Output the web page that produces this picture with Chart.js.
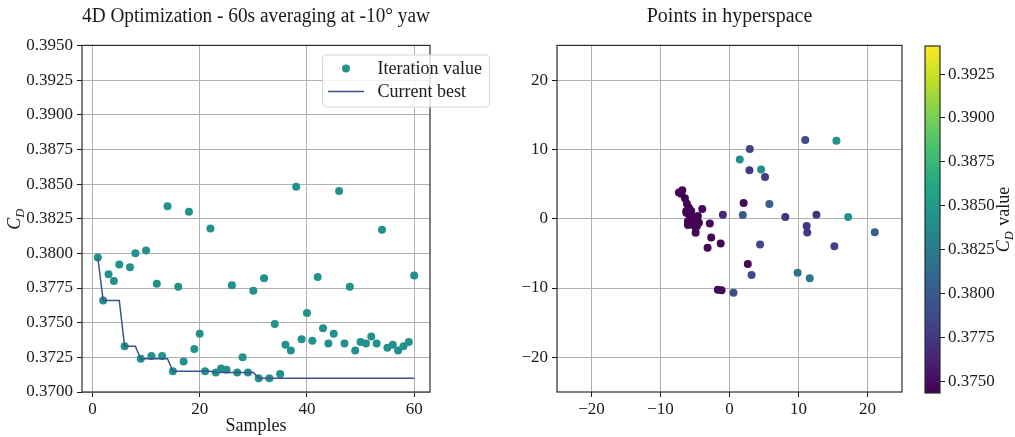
<!DOCTYPE html>
<html>
<head>
<meta charset="utf-8">
<script src="https://cdn.jsdelivr.net/npm/chart.js@4.4.0/dist/chart.umd.min.js"></script>
<style>
  html, body { margin: 0; padding: 0; background: #ffffff; }
  #wrap { position: relative; width: 1015px; height: 437px; overflow: hidden; }
  canvas { position: absolute; top: 0; }
  #c1 { left: 0; }
  #c2 { left: 505px; }
  #c3 { left: 915px; }
</style>
</head>
<body>
<div id="wrap">
  <canvas id="c1" width="505" height="437"></canvas>
  <canvas id="c2" width="410" height="437"></canvas>
  <canvas id="c3" width="100" height="437"></canvas>
</div>
<script>
// ---- optimisation history ----
const samples = Array.from({ length: 60 }, (_, i) => i + 1);
const iterationValue = [
  0.3797, 0.3766, 0.3785, 0.3780, 0.3792, 0.3733, 0.3790, 0.3800, 0.3724, 0.3802,
  0.3726, 0.3778, 0.3726, 0.3834, 0.3715, 0.3776, 0.3722, 0.3830, 0.3731, 0.3742,
  0.3715, 0.3818, 0.3714, 0.3717, 0.3716, 0.3777, 0.3714, 0.3725, 0.3714, 0.3773,
  0.3710, 0.3782, 0.3710, 0.3749, 0.3713, 0.3734, 0.3730, 0.3848, 0.3738, 0.3757,
  0.3737, 0.3783, 0.3746, 0.3735, 0.3742, 0.3845, 0.3735, 0.3776, 0.3730, 0.3736,
  0.3735, 0.3740, 0.3735, 0.3817, 0.3732, 0.3734, 0.3730, 0.3733, 0.3736, 0.3784
];
// best value found so far at each sample
const currentBest = [];
iterationValue.forEach((v, i) => currentBest.push(i === 0 ? v : Math.min(currentBest[i - 1], v)));

const historyXTicks = [0, 20, 40, 60];
const historyYTicks = [0.3700, 0.3725, 0.3750, 0.3775, 0.3800, 0.3825, 0.3850, 0.3875, 0.3900, 0.3925, 0.3950];

// ---- sampled points projected to 2D ----
const hypX = [10.98, 15.50, 2.94, 1.49, 2.89, 4.58, 5.15, 2.05, 5.78, -0.96, 1.93, 8.09, 12.60, 17.20, 11.18, 11.27, 21.05, -1.28, 4.43, 15.20, 2.65, 3.20, 9.87, 11.63, -1.69, -1.15, 0.58,
  -7.33, -6.84, -7.00, -6.46, -6.17, -5.88, -6.26, -5.54, -3.95, -5.68, -6.26, -5.78, -4.58, -5.06, -5.50, -6.02, -5.30, -4.43, -6.02, -5.30, -4.72, -2.85, -4.90, -4.91, -2.65, -3.18];
const hypY = [11.35, 11.25, 10.04, 8.55, 7.00, 7.10, 6.03, 2.26, 2.12, 0.58, 0.53, 0.24, 0.58, 0.24, -1.07, -1.99, -1.94, -3.58, -3.72, -3.97, -6.52, -8.12, -7.78, -8.60, -10.25, -10.32, -10.68,
  3.77, 4.10, 3.60, 2.94, 2.17, 1.59, 1.10, 1.10, 1.39, 0.52, 0.87, 0.38, 0.38, 0.14, -0.10, -0.35, -0.35, -0.58, -0.92, -0.92, -1.07, -0.68, -1.30, -2.03, -2.71, -4.20];
const hypCd = [0.3790, 0.3845, 0.3781, 0.3842, 0.3776, 0.3838, 0.3778, 0.3746, 0.3803, 0.3765, 0.3800, 0.3773, 0.3773, 0.3845, 0.3772, 0.3776, 0.3803, 0.3745, 0.3786, 0.3781, 0.3746, 0.3786, 0.3818, 0.3822, 0.3747, 0.3748, 0.3791,
  0.3744, 0.3745, 0.3744, 0.3743, 0.3744, 0.3743, 0.3744, 0.3745, 0.3745, 0.3743, 0.3744, 0.3743, 0.3744, 0.3745, 0.3743, 0.3744, 0.3743, 0.3744, 0.3744, 0.3745, 0.3744, 0.3746, 0.3744, 0.3745, 0.3745, 0.3746];
const hypTicks = [-20, -10, 0, 10, 20];

// ---- colour bar ----
const cdRange = [0.37432, 0.39410];
const cbTicks = [0.3750, 0.3775, 0.3800, 0.3825, 0.3850, 0.3875, 0.3900, 0.3925];

const viridisStops = ['#440154', '#482475', '#414487', '#355f8d', '#2a788e', '#21918c', '#22a884', '#44bf70', '#7ad151', '#bddf26', '#fde725'];
function hexRgb(h) { return [1, 3, 5].map(i => parseInt(h.substr(i, 2), 16)); }
function viridis(t) {
  t = Math.max(0, Math.min(1, t));
  const p = t * 10, i = Math.min(9, Math.floor(p)), f = p - i;
  const a = hexRgb(viridisStops[i]), b = hexRgb(viridisStops[i + 1]);
  const c = a.map((v, k) => Math.round(v + (b[k] - v) * f));
  return `rgb(${c[0]},${c[1]},${c[2]})`;
}
const cdColor = v => viridis((v - cdRange[0]) / (cdRange[1] - cdRange[0]));

const SERIF = "'Liberation Serif', 'DejaVu Serif', serif";
const INK = '#1a1a1a';
const GRID = '#b0b0b0';
const TEXT_SIZE = 18;
const TITLE_SIZE = 20;
Chart.defaults.font.family = SERIF;
Chart.defaults.font.size = 17;
Chart.defaults.color = INK;

const minus = s => String(s).replace('-', '\u2212');
const fixTicks = arr => scale => { scale.ticks = arr.map(v => ({ value: v })); };

// box around the plotting area
const framePlugin = {
  id: 'frame',
  afterDatasetsDraw(chart) {
    const { ctx, chartArea: a } = chart;
    ctx.save();
    ctx.strokeStyle = '#2b2b2b';
    ctx.lineWidth = 1.2;
    ctx.strokeRect(a.left, a.top, a.right - a.left, a.bottom - a.top);
    ctx.restore();
  }
};

// rotated label such as  C_D  or  C_D value
function drawRotatedCd(ctx, baseX, centerY, rest) {
  ctx.save();
  const fMain = `italic ${TEXT_SIZE}px ${SERIF}`, fSub = `italic 12.5px ${SERIF}`, fRest = `${TEXT_SIZE}px ${SERIF}`;
  ctx.font = fMain; const wC = ctx.measureText('C').width;
  ctx.font = fSub; const wD = ctx.measureText('D').width;
  ctx.font = fRest; const wR = rest ? ctx.measureText(rest).width : 0;
  const total = wC + wD + 1 + wR;
  ctx.translate(baseX, centerY);
  ctx.rotate(-Math.PI / 2);
  ctx.fillStyle = INK;
  ctx.textBaseline = 'alphabetic';
  ctx.textAlign = 'left';
  let x = -total / 2;
  ctx.font = fMain; ctx.fillText('C', x, 0); x += wC;
  ctx.font = fSub; ctx.fillText('D', x, 3.5); x += wD + 1;
  if (rest) { ctx.font = fRest; ctx.fillText(rest, x, 0); }
  ctx.restore();
}

const historyDecor = {
  id: 'historyDecor',
  afterDraw(chart) {
    const { ctx, chartArea: a } = chart;
    drawRotatedCd(ctx, 20, (a.top + a.bottom) / 2, '');
    // legend
    const bx = 322.5, by = 55, bw = 167, bh = 52, r = 3.5;
    ctx.save();
    ctx.beginPath();
    ctx.moveTo(bx + r, by);
    ctx.arcTo(bx + bw, by, bx + bw, by + bh, r);
    ctx.arcTo(bx + bw, by + bh, bx, by + bh, r);
    ctx.arcTo(bx, by + bh, bx, by, r);
    ctx.arcTo(bx, by, bx + bw, by, r);
    ctx.closePath();
    ctx.fillStyle = 'rgba(255,255,255,0.8)';
    ctx.fill();
    ctx.strokeStyle = '#d6d6d6';
    ctx.lineWidth = 1;
    ctx.stroke();
    const ds = chart.data.datasets;
    ctx.fillStyle = ds[1].backgroundColor;
    ctx.beginPath(); ctx.arc(346, 68.5, 4, 0, Math.PI * 2); ctx.fill();
    ctx.strokeStyle = ds[0].borderColor; ctx.lineWidth = 1.5;
    ctx.beginPath(); ctx.moveTo(328, 91.5); ctx.lineTo(364, 91.5); ctx.stroke();
    ctx.fillStyle = INK;
    ctx.font = `${TEXT_SIZE}px ${SERIF}`;
    ctx.textBaseline = 'alphabetic';
    ctx.fillText(ds[1].label, 377.5, 73.5);
    ctx.fillText(ds[0].label, 377.5, 96.5);
    ctx.restore();
  }
};

const axisCommon = {
  grid: { color: GRID, lineWidth: 1, tickColor: INK, tickLength: 5 },
  border: { display: false }
};
const titleOpts = text => ({
  display: true, text: text,
  font: { size: TITLE_SIZE, weight: 'normal' }, color: INK,
  padding: { top: 5, bottom: 16.4 }, fullSize: false
});

new Chart(document.getElementById('c1'), {
  type: 'scatter',
  data: {
    datasets: [
      {
        label: 'Current best',
        data: samples.map((s, i) => ({ x: s, y: currentBest[i] })),
        showLine: true, borderColor: '#3b528b', borderWidth: 1.5,
        pointRadius: 0, tension: 0, fill: false
      },
      {
        label: 'Iteration value',
        data: samples.map((s, i) => ({ x: s, y: iterationValue[i] })),
        backgroundColor: '#21918c', borderWidth: 0, pointRadius: 4
      }
    ]
  },
  options: {
    responsive: false, animation: false, devicePixelRatio: 1,
    layout: { padding: { left: 0, right: 75, top: 0, bottom: 0 } },
    plugins: {
      legend: { display: false }, tooltip: { enabled: false },
      title: titleOpts('4D Optimization - 60s averaging at -10\u00b0 yaw')
    },
    scales: {
      x: {
        type: 'linear', min: -1.95, max: 62.95, ...axisCommon,
        afterBuildTicks: fixTicks(historyXTicks),
        afterFit: s => { s.height = 45; },
        ticks: { padding: 2, maxRotation: 0, callback: v => minus(v) },
        title: { display: true, text: 'Samples', padding: { top: 0, bottom: 0 }, font: { size: TEXT_SIZE } }
      },
      y: {
        type: 'linear', min: 0.37, max: 0.395, ...axisCommon,
        afterBuildTicks: fixTicks(historyYTicks),
        afterFit: s => { s.width = 82; },
        ticks: { padding: 4, callback: v => v.toFixed(4) }
      }
    }
  },
  plugins: [framePlugin, historyDecor]
});

new Chart(document.getElementById('c2'), {
  type: 'scatter',
  data: {
    datasets: [{
      label: 'Points',
      data: hypX.map((x, i) => ({ x: x, y: hypY[i] })),
      backgroundColor: hypCd.map(cdColor), borderWidth: 0, pointRadius: 4
    }]
  },
  options: {
    responsive: false, animation: false, devicePixelRatio: 1,
    layout: { padding: { left: 0, right: 13, top: 0, bottom: 0 } },
    plugins: {
      legend: { display: false }, tooltip: { enabled: false },
      title: titleOpts('Points in hyperspace')
    },
    scales: {
      x: {
        type: 'linear', min: -25, max: 25, ...axisCommon,
        afterBuildTicks: fixTicks(hypTicks),
        afterFit: s => { s.height = 45; },
        ticks: { padding: 2, maxRotation: 0, callback: v => minus(v) }
      },
      y: {
        type: 'linear', min: -25, max: 25, ...axisCommon,
        afterBuildTicks: fixTicks(hypTicks),
        afterFit: s => { s.width = 52; },
        ticks: { padding: 4, callback: v => minus(v) }
      }
    }
  },
  plugins: [framePlugin]
});

const cbLabel = {
  id: 'cbLabel',
  afterDraw(chart) {
    drawRotatedCd(chart.ctx, 94, (chart.chartArea.top + chart.chartArea.bottom) / 2, ' value');
  }
};

new Chart(document.getElementById('c3'), {
  type: 'bar',
  data: {
    labels: [''],
    datasets: [{
      data: [cdRange],
      barPercentage: 1, categoryPercentage: 1, borderWidth: 0, borderSkipped: false,
      backgroundColor(ctx) {
        const a = ctx.chart.chartArea;
        if (!a) return viridisStops[0];
        const g = ctx.chart.ctx.createLinearGradient(0, a.bottom, 0, a.top);
        viridisStops.forEach((c, i) => g.addColorStop(i / (viridisStops.length - 1), c));
        return g;
      }
    }]
  },
  options: {
    responsive: false, animation: false, devicePixelRatio: 1,
    layout: { padding: { left: 10, right: 0, top: 46, bottom: 44 } },
    plugins: { legend: { display: false }, tooltip: { enabled: false } },
    scales: {
      x: { display: false },
      y: {
        position: 'right', min: cdRange[0], max: cdRange[1],
        afterBuildTicks: fixTicks(cbTicks),
        afterFit: s => { s.width = 75; },
        grid: { drawOnChartArea: false, tickColor: INK, tickLength: 5 },
        border: { display: false },
        ticks: { padding: 3, callback: v => v.toFixed(4) }
      }
    }
  },
  plugins: [framePlugin, cbLabel]
});
</script>
</body>
</html>
